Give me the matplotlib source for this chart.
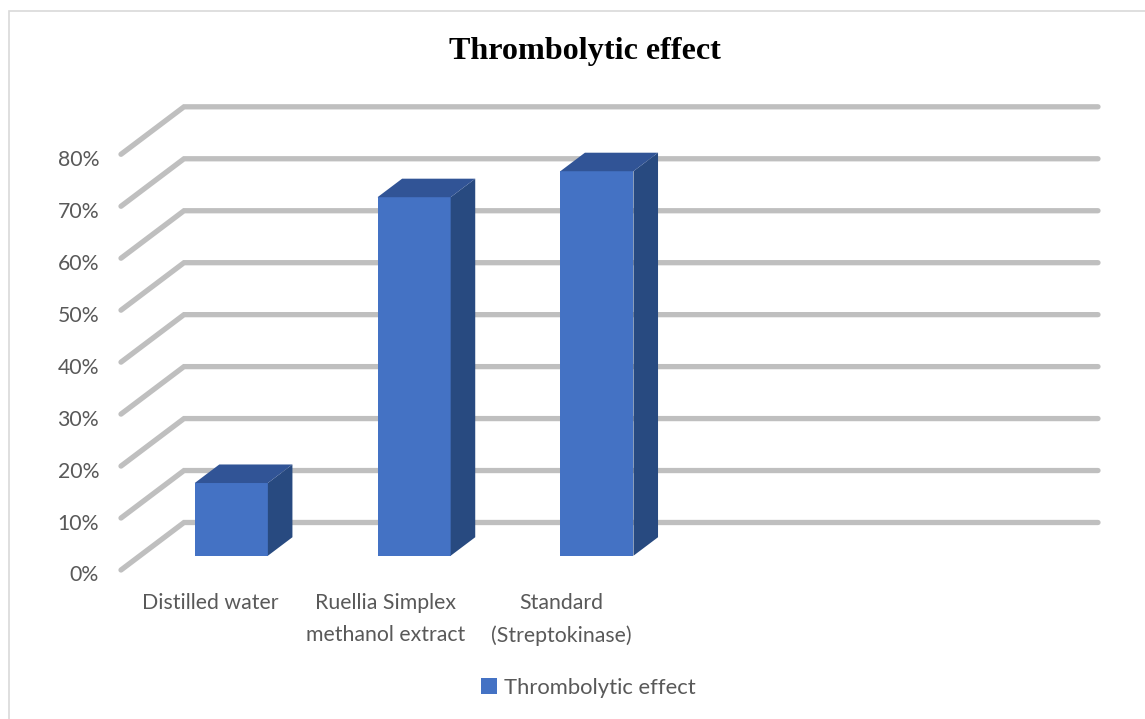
import matplotlib
matplotlib.use("Agg")
import matplotlib.pyplot as plt
import matplotlib.transforms as mtransforms
import numpy as np
from matplotlib.patches import Rectangle

# ---- data ----
categories = ["Distilled water", "Ruellia Simplex\nmethanol extract", "Standard\n(Streptokinase)"]
values = [14, 69, 74]          # percent
series_name = "Thrombolytic effect"
title = "Thrombolytic effect"
yticks = [0, 10, 20, 30, 40, 50, 60, 70, 80]
ytick_labels = [f"{v}%" for v in yticks]

# ---- style ----
W, H, DPI = 1145, 719, 100
FRONT = "#4472C4"
TOP = "#315496"
SIDE = "#284A80"
GRID = "#BFBFBF"
TXT = "#595959"
FONT = "Lato"
FS = 15.3

fig = plt.figure(figsize=(W / DPI, H / DPI), dpi=DPI)
ax_left, ax_right, ax_bot, ax_top = 121, 1035, 570, 154.3
ax = fig.add_axes([ax_left / W, (H - ax_bot) / H, (ax_right - ax_left) / W, (ax_bot - ax_top) / H])
nslots = 5
ax.set_xlim(-0.5, nslots - 0.5)
ax.set_ylim(0, 80)
for s in ax.spines.values():
    s.set_visible(False)

# depth vector (pixels) converted to data units
px_per_x = (ax_right - ax_left) / nslots
px_per_y = (ax_bot - ax_top) / 80
DX = 63 / px_per_x
DY = 47.5 / px_per_y

# gridlines: diagonal side wall + back wall
x0, x1 = -0.5, nslots - 0.5
for v in yticks:
    ax.plot([x0, x0 + DX, x1 + DX], [v, v + DY, v + DY], color=GRID, lw=3.8,
            solid_capstyle="round", solid_joinstyle="miter", clip_on=False, zorder=1)

# bars with pseudo depth
d0, d1 = 0.30, 0.69
bw = 0.40
xc = np.arange(len(values))
bars = ax.bar(xc + d0 * DX, values, width=bw, bottom=d0 * DY, color=FRONT,
              zorder=3, clip_on=False, label=series_name)
for x, v in zip(xc, values):
    xl = x - bw / 2 + d0 * DX
    xr = x + bw / 2 + d0 * DX
    yb = d0 * DY
    yt = v + d0 * DY
    ddx = (d1 - d0) * DX
    ddy = (d1 - d0) * DY
    # side face
    ax.fill([xr, xr + ddx, xr + ddx, xr], [yb, yb + ddy, yt + ddy, yt], color=SIDE,
            zorder=3, clip_on=False, lw=0)
    # top face
    ax.fill([xl, xr, xr + ddx, xl + ddx], [yt, yt, yt + ddy, yt + ddy], color=TOP,
            zorder=3, clip_on=False, lw=0)

# y tick labels
ax.set_yticks(yticks)
ax.set_yticklabels(ytick_labels)
ax.tick_params(axis="y", length=0, pad=15.8, labelsize=FS, labelcolor=TXT)

# category labels (Excel 3D projection places them slightly inward)
label_step = 0.958
ax.set_xticks(xc * label_step - 0.01)
ax.set_xticklabels(categories, linespacing=1.75)
ax.tick_params(axis="x", length=0, pad=16.5, labelsize=FS, labelcolor=TXT)
for lab in ax.get_xticklabels() + ax.get_yticklabels():
    lab.set_fontfamily(FONT)
    lab.set_multialignment("center")
ydown = mtransforms.ScaledTranslation(0, -2.5 / 72, fig.dpi_scale_trans)
for lab in ax.get_yticklabels():
    lab.set_transform(lab.get_transform() + ydown)

# title
fig.text(585 / W, 1 - 51 / H, title, ha="center", va="center",
         fontfamily="Liberation Serif", fontweight="bold", fontsize=23.1, color="black")

# legend
leg = fig.legend(handles=[bars], labels=[series_name], loc="center",
                 bbox_to_anchor=(588 / W, 1 - 688 / H), frameon=False,
                 handlelength=0.75, handleheight=0.75, handletextpad=0.3,
                 prop={"family": FONT, "size": 15.8})
for t in leg.get_texts():
    t.set_color(TXT)

# chart border (only left and top visible in the crop)
fig.patches.append(Rectangle((9 / W, -0.1), 1.2, (H - 11) / H + 0.1, transform=fig.transFigure,
                             fill=False, edgecolor="#D9D9D9", lw=1.2))

fig.savefig("out.png", dpi=DPI)
